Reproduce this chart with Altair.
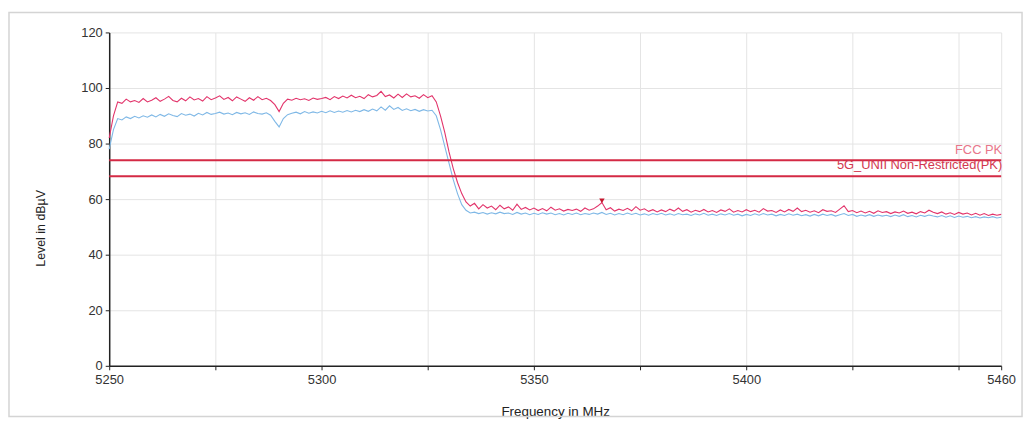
import altair as alt
import pandas as pd

# frequency axis (MHz), one sample per MHz
freq = list(range(5250, 5461))

# peak trace (red)
peak = [
    82, 90, 95, 94.5, 96, 95, 95.5, 94.8, 96.2, 95,
    95.6, 96.5, 95.2, 96, 97, 95.5, 95, 96.3, 95.4, 96.8,
    95.7, 96.2, 95.3, 96.9, 95.8, 96.4, 97.2, 95.9, 96.6, 95.4,
    96.8, 96, 95.2, 96.5, 95.6, 96.9, 95.8, 96.3, 95.5, 94,
    91.5, 94.5, 96, 95.6, 96.3, 95.8, 96.1, 95.5, 96.4, 95.9,
    96.2, 96.6, 95.8, 96.9, 96.2, 97.1, 96.4, 97.4, 96.5, 97,
    96.2, 97.6, 96.8, 97.3, 98.8, 96.9, 97.5, 96.4, 97.8, 96.6,
    97.9, 96.8, 97.2, 96.3, 97.6, 96.5, 97.2, 95, 90, 84,
    77, 71, 66, 62, 59, 57.5, 58.5, 56.5, 58, 56.8,
    57.5, 56.2, 57.8, 56.5, 57.2, 56, 58.2, 56.3, 57, 56.1,
    56.8, 55.9, 56.6, 55.8, 57.1, 56, 56.5, 55.7, 56.3, 55.9,
    56.4, 55.6, 56.8, 56, 56.5, 57.5, 58.8, 56.2, 56.9, 55.7,
    56.4, 55.9, 56.7, 55.8, 57.3, 56, 56.5, 55.6, 56.2, 55.4,
    56.1, 55.5, 56.4, 55.7, 56.8, 55.6, 56.2, 55.3, 56, 55.5,
    56.3, 55.4, 55.9, 55.2, 56.1, 55.6, 56.5, 55.3, 55.9, 55.4,
    56.2, 55.5, 56, 55.3, 56.6, 55.7, 55.9, 55.2, 56.1, 55.4,
    56.3, 55.6, 56.8, 55.5, 56, 55.3, 55.8, 55.1, 56.2, 55.6,
    55.8, 55.2, 56.4, 57.6, 55.5, 55.9, 55.1, 55.7, 55, 55.6,
    54.9, 55.8, 55.2, 55.5, 54.8, 55.4, 55, 55.7, 54.9, 55.3,
    54.7, 55.5, 55, 56, 55.3, 54.8, 55.4, 54.6, 55.1, 54.5,
    55.2, 54.6, 55, 54.3, 54.9, 54.2, 54.8, 54.1, 54.6, 54.2,
    54.5,
]

# average trace (blue)
avg = [
    78, 85, 89, 88.5, 89.6, 89, 89.8, 89.2, 90, 89.5,
    90.3, 89.6, 90.5, 89.8, 90.7, 90.1, 89.7, 90.8, 90.2, 90.6,
    89.9, 90.9, 90.3, 91.2, 90.5, 90.8, 91.3, 90.6, 91, 90.4,
    91.2, 90.7, 91.1, 90.5, 91.4, 90.8, 90.6, 91.1, 90.2, 88,
    86, 89, 90.4, 90.9, 91.3, 90.7, 91.5, 90.9, 91.4, 91,
    91.6, 91.1, 91.8, 91.2, 91.7, 91.3, 91.9, 91.4, 92, 91.5,
    92.2, 91.6, 92.4, 91.8, 93.2, 92, 93.6, 92.3, 93, 91.9,
    92.5, 91.8, 92.3, 91.6, 92.2, 91.7, 92, 90, 85, 79,
    73, 67, 62, 58, 56, 55, 55.3, 54.8, 55.2, 54.6,
    55.1, 54.7, 55.3, 54.8, 55, 54.5, 55.2, 54.6, 55, 54.4,
    54.9, 54.5, 55.1, 54.6, 55, 54.4, 54.8, 54.3, 54.9, 54.5,
    55, 54.4, 54.8, 54.5, 55, 54.6, 55.2, 54.5, 54.9, 54.3,
    54.8, 54.4, 55, 54.5, 54.9, 54.3, 54.7, 54.2, 54.8, 54.4,
    54.9, 54.3, 54.7, 54.2, 54.8, 54.4, 54.6, 54.1, 54.7, 54.3,
    54.9, 54.2, 54.6, 54.1, 54.7, 54.3, 54.8, 54.2, 54.6, 54,
    54.5, 54.1, 54.7, 54.2, 54.8, 54.3, 54.6, 54, 54.5, 54.1,
    54.7, 54.2, 54.6, 54, 54.4, 53.9, 54.5, 54, 54.6, 54.1,
    54.5, 53.9, 54.4, 54.8, 54.1, 54.5, 53.8, 54.3, 53.9, 54.4,
    53.8, 54.3, 53.9, 54.2, 53.7, 54.3, 53.8, 54.4, 53.7, 54.1,
    53.6, 54.2, 53.8, 54.3, 53.9, 53.6, 54.1, 53.5, 54, 53.4,
    53.9, 53.5, 53.8, 53.3, 53.7, 53.2, 53.6, 53.3, 53.7, 53.2,
    53.5,
]

limit_names = ["FCC PK", "5G_UNII Non-Restricted(PK)"]
limit_values = [74, 68.2]
limit_label_y = [77.6, 72.4]
limit_label_colors = ["#e8758a", "#d2384f"]

marker_freq = [5366]
marker_level = [59.4]

x_ticks = [5250, 5275, 5300, 5325, 5350, 5375, 5400, 5425, 5450, 5460]
x_labelled = [5250, 5300, 5350, 5400, 5460]
y_ticks = [0, 10, 20, 30, 40, 50, 60, 70, 80, 90, 100, 110, 120]

assert len(freq) == len(peak) == len(avg)

traces = pd.DataFrame({"f": freq, "peak": peak, "avg": avg})
limits = pd.DataFrame({"name": limit_names, "v": limit_values,
                       "ly": limit_label_y, "c": limit_label_colors,
                       "x": [5460, 5460]})
markers = pd.DataFrame({"f": marker_freq, "v": marker_level})

FONT = "Liberation Sans"

xscale = alt.Scale(domain=[5250, 5460], nice=False, zero=False)
yscale = alt.Scale(domain=[0, 120], nice=False)

xaxis = alt.Axis(
    values=x_ticks, format="d",
    labelExpr="indexof(" + str(x_labelled) + ", datum.value) >= 0 ? datum.label : ''",
    labelOverlap=False, labelFlush=False,
    title="Frequency in MHz", titleFontSize=13.5, titleFontWeight="normal",
    titleFont=FONT, titleColor="#222", titleY=46, titleBaseline="middle",
    labelFont=FONT, labelFontSize=13, labelColor="#333", labelPadding=4,
    domainColor="#222", domainWidth=1.5, tickColor="#222", tickSize=4,
    grid=True, gridColor="#e4e4e4", gridWidth=1,
)
yaxis = alt.Axis(
    values=y_ticks,
    labelExpr="(datum.value % 20 == 0) ? datum.label : ''",
    labelOverlap=False,
    title="Level in dBµV", titleFontSize=12.5, titleFontWeight="normal",
    titleFont=FONT, titleColor="#222", titleX=-62, titleY=197,
    labelFont=FONT, labelFontSize=13, labelColor="#333", labelPadding=3,
    domainColor="#222", domainWidth=1.5, tickColor="#222", tickSize=4,
    grid=True, gridColor="#e4e4e4", gridWidth=1,
)

frame = alt.Chart(markers).mark_rect(
    fill="transparent", stroke="#d4d4d4", strokeWidth=1.5
).encode(
    x=alt.value(-101), x2=alt.value(920), y=alt.value(-20), y2=alt.value(387)
)

blue = alt.Chart(traces).mark_line(color="#7fb8e6", strokeWidth=1.1).encode(
    x=alt.X("f:Q", scale=xscale, axis=xaxis),
    y=alt.Y("avg:Q", scale=yscale, axis=yaxis),
)
red = alt.Chart(traces).mark_line(color="#e2336a", strokeWidth=1.1).encode(
    x=alt.X("f:Q", scale=xscale),
    y=alt.Y("peak:Q", scale=yscale),
)
rules = alt.Chart(limits).mark_rule(color="#d42a45", strokeWidth=2).encode(
    y=alt.Y("v:Q", scale=yscale),
)
labels = alt.Chart(limits).mark_text(
    align="right", baseline="middle", font=FONT, fontSize=13, dx=1
).encode(
    x=alt.X("x:Q", scale=xscale),
    y=alt.Y("ly:Q", scale=yscale),
    text="name:N",
    color=alt.Color("c:N", scale=None),
)
mark = alt.Chart(markers).mark_point(
    shape="triangle-down", filled=True, color="#c4182f", size=30, opacity=1
).encode(
    x=alt.X("f:Q", scale=xscale),
    y=alt.Y("v:Q", scale=yscale),
)

chart = alt.layer(frame, blue, red, rules, labels, mark).properties(
    width=899, height=336,
    autosize=alt.AutoSizeParams(type="none"),
    padding={"left": 102, "top": 23, "right": 25, "bottom": 56},
    background="white",
).configure_view(strokeWidth=0)

chart.save("out.html", embed_options={"renderer": "svg", "actions": False})
